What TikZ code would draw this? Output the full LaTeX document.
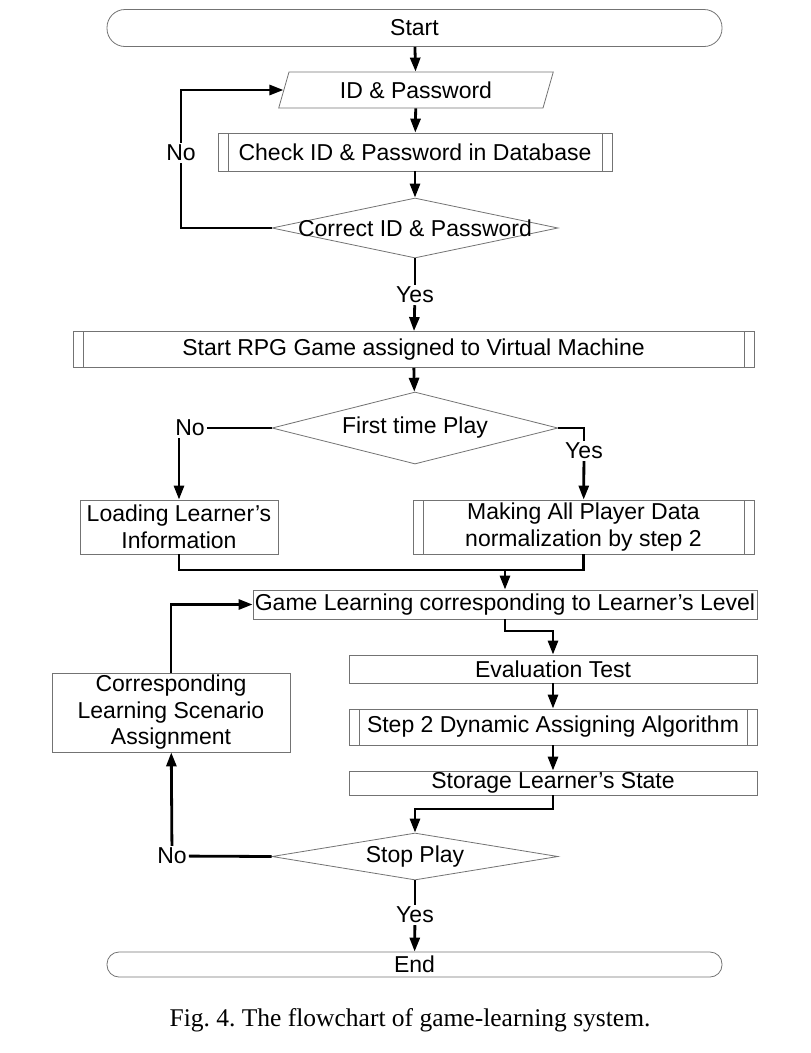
\documentclass[tikz,border=0pt]{standalone}
\usepackage{fontspec}
\setmainfont{Liberation Sans}
\newfontfamily\capfont{Liberation Serif}
\usetikzlibrary{shapes.geometric,arrows.meta}

\tikzset{
  box/.style={draw=black!55, line width=0.8pt, rectangle, inner sep=0pt,
    align=center, font=\fontsize{23}{26.5}\selectfont},
  subproc/.style={box, path picture={
    \draw[black!55, line width=0.8pt]
      ([xshift=10pt]path picture bounding box.north west) --
      ([xshift=10pt]path picture bounding box.south west);
    \draw[black!55, line width=0.8pt]
      ([xshift=-10pt]path picture bounding box.north east) --
      ([xshift=-10pt]path picture bounding box.south east);}},
  term/.style={box, rounded corners=#1},
  decide/.style={box, diamond, minimum width=286pt},
  io/.style={box, trapezium, trapezium left angle=70, trapezium right angle=110,
    trapezium stretches=true},
  link/.style={line width=2.8pt},
  flow/.style={link, -{Triangle[length=14pt,width=10pt]}},
  lbl/.style={font=\fontsize{23}{26.5}\selectfont, inner sep=2pt}
}

\begin{document}
\begin{tikzpicture}[x=1pt,y=-1pt]
\useasboundingbox (0,0) rectangle (811,1053);

% main column
\node[term=18pt, minimum width=615pt, minimum height=37pt] (start) at (414.5,28) {Start};
\node[io, minimum width=275pt, minimum height=36pt] (id) at (416,90) {ID \& Password};
\node[subproc, minimum width=394pt, minimum height=38pt] (check) at (415,152) {Check ID \& Password in Database};
\node[decide, minimum height=60pt] (ok) at (415,228) {\makebox[0pt]{Correct ID \& Password}};
\node[lbl] (yes1) at (415,295) {Yes};
\node[lbl] (no1) at (181,153) {No};
\node[subproc, minimum width=681pt, minimum height=36pt] (rpg) at (413.5,349.5) {Start RPG Game assigned to Virtual Machine};
\node[decide, minimum height=72pt] (first) at (415,428) {\makebox[0pt]{First time Play}};
\node[lbl] (no2) at (190,428) {No};
\node[lbl] (yes2) at (584,451) {Yes};
\node[box, minimum width=198pt, minimum height=54pt] (load) at (179,527) {Loading Learner's\\Information};
\node[subproc, minimum width=341pt, minimum height=54pt] (make) at (583.5,527) {Making All Player Data\\normalization by step 2};
\coordinate (join) at (505,570);
\node[box, minimum width=504pt, minimum height=29pt] (game) at (505,604.5) {Game Learning corresponding to Learner's Level};
\coordinate (bend1) at (530,631);
\node[box, minimum width=408pt, minimum height=28pt] (eval) at (553,669) {Evaluation Test};
\node[subproc, minimum width=408pt, minimum height=36pt] (step) at (553,727) {Step 2 Dynamic Assigning Algorithm};
\node[box, minimum width=408pt, minimum height=24pt] (store) at (553,783) {Storage Learner's State};
\coordinate (bend2) at (480,809);
\node[decide, minimum height=47pt] (stop) at (415,856.5) {\makebox[0pt]{Stop Play}};
\node[lbl] (no3) at (172,856) {No};
\node[lbl] (yes3) at (415,915) {Yes};
\node[box, minimum width=238pt, minimum height=79pt] (assign) at (171,712.5) {Corresponding\\Learning Scenario\\Assignment};
\node[term=12pt, minimum width=615pt, minimum height=25pt] (end) at (414.5,964.5) {End};

% caption
\node[font=\capfont\fontsize{25.5}{30}\selectfont] (cap) at (410,1020) {\frenchspacing Fig. 4. The flowchart of game-learning system.};

% connectors
\draw[flow] (start) -- (id);
\draw[flow] (id) -- (check);
\draw[flow] (check) -- (ok);
\draw[link] (ok.west) -| (no1);
\draw[flow] (no1) |- (id);
\draw[link] (ok) -- (yes1);
\draw[flow] (yes1) -- (rpg);
\draw[flow] (rpg) -- (first);
\draw[link] (first.west) -- (no2);
\draw[flow] (load.north |- no2.south) -- (load);
\draw[link] (first.east) -| (yes2);
\draw[flow] (yes2) -- (make);
\draw[link] (load) |- (join);
\draw[link] (make) |- (join);
\draw[flow] (join) -- (game);
\draw[flow] (game) |- (bend1) -| (eval);
\draw[flow] (eval) -- (step);
\draw[flow] (step) -- (store);
\draw[flow] (store) |- (bend2) -| (stop);
\draw[link] (stop.west) -- (no3);
\draw[flow] (no3) -- (assign);
\draw[flow] (assign) |- (game);
\draw[link] (stop) -- (yes3);
\draw[flow] (yes3) -- (end);
\end{tikzpicture}
\end{document}
